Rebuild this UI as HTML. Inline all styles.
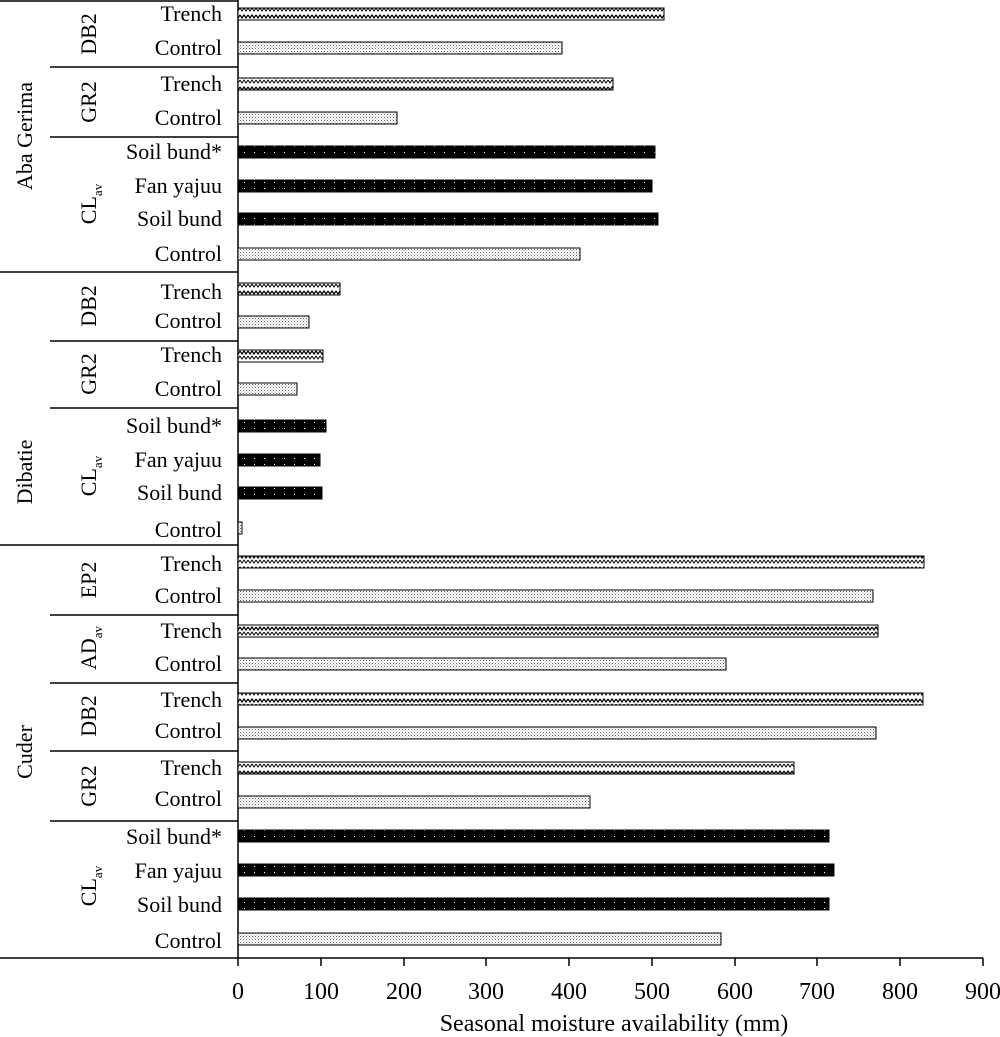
<!DOCTYPE html>
<html><head><style>body{margin:0;background:#fff}svg{display:block}text{font-family:"Liberation Serif",serif;fill:#000}</style></head><body>
<svg width="1000" height="1037" viewBox="0 0 1000 1037" xmlns="http://www.w3.org/2000/svg">
<defs>
<pattern id="wave" width="8" height="12" patternUnits="userSpaceOnUse"><rect width="8" height="12" fill="#fff"/><path d="M0 3 L2 6 L4 3 L6 6 L8 3" stroke="#000" stroke-width="1.2" fill="none"/><path d="M0 8 L2 11 L4 8 L6 11 L8 8" stroke="#000" stroke-width="1" fill="none"/></pattern>
<pattern id="dots" width="3" height="3" patternUnits="userSpaceOnUse"><rect width="3" height="3" fill="#fff"/><rect width="1" height="1" fill="#666"/><rect x="1.5" y="1.5" width="1" height="1" fill="#999"/></pattern>
<pattern id="blk" width="10" height="6" patternUnits="userSpaceOnUse"><rect width="10" height="6" fill="#000"/><rect x="4" y="2" width="1" height="1" fill="#fff"/></pattern>
</defs>
<g stroke="#000" stroke-width="1.5">
<line x1="0" y1="1" x2="238" y2="1"/>
<line x1="0" y1="272" x2="238" y2="272"/>
<line x1="0" y1="545" x2="238" y2="545"/>
<line x1="0" y1="958" x2="983" y2="958"/>
<line x1="238" y1="0" x2="238" y2="958"/>
<line x1="50" y1="67" x2="238" y2="67"/><line x1="50" y1="137" x2="238" y2="137"/>
<line x1="50" y1="341" x2="238" y2="341"/><line x1="50" y1="408" x2="238" y2="408"/>
<line x1="50" y1="615" x2="238" y2="615"/><line x1="50" y1="683" x2="238" y2="683"/>
<line x1="50" y1="751" x2="238" y2="751"/><line x1="50" y1="821" x2="238" y2="821"/>
<line x1="238" y1="958" x2="238" y2="966"/><line x1="321" y1="958" x2="321" y2="966"/><line x1="404" y1="958" x2="404" y2="966"/><line x1="486" y1="958" x2="486" y2="966"/><line x1="569" y1="958" x2="569" y2="966"/><line x1="652" y1="958" x2="652" y2="966"/><line x1="735" y1="958" x2="735" y2="966"/><line x1="817" y1="958" x2="817" y2="966"/><line x1="900" y1="958" x2="900" y2="966"/><line x1="983" y1="958" x2="983" y2="966"/>
</g>
<g font-size="24" text-anchor="middle">
<text x="238" y="999">0</text><text x="321" y="999">100</text><text x="404" y="999">200</text><text x="486" y="999">300</text><text x="569" y="999">400</text><text x="652" y="999">500</text><text x="735" y="999">600</text><text x="817" y="999">700</text><text x="900" y="999">800</text><text x="983" y="999">900</text>
<text x="614" y="1031">Seasonal moisture availability (mm)</text>
</g>
<g stroke="#000" stroke-width="1">
<rect x="238" y="8" width="426" height="12" fill="url(#wave)"/>
<rect x="238" y="42" width="324" height="12" fill="url(#dots)"/>
<rect x="238" y="78" width="375" height="12" fill="url(#wave)"/>
<rect x="238" y="112" width="159" height="12" fill="url(#dots)"/>
<rect x="238" y="146" width="417" height="12" fill="url(#blk)"/>
<rect x="238" y="180" width="414" height="12" fill="url(#blk)"/>
<rect x="238" y="213" width="420" height="12" fill="url(#blk)"/>
<rect x="238" y="248" width="342" height="12" fill="url(#dots)"/>
<rect x="238" y="283" width="102" height="12" fill="url(#wave)"/>
<rect x="238" y="316" width="71" height="12" fill="url(#dots)"/>
<rect x="238" y="350" width="85" height="12" fill="url(#wave)"/>
<rect x="238" y="383" width="59" height="12" fill="url(#dots)"/>
<rect x="238" y="420" width="88" height="12" fill="url(#blk)"/>
<rect x="238" y="454" width="82" height="12" fill="url(#blk)"/>
<rect x="238" y="487" width="84" height="12" fill="url(#blk)"/>
<rect x="238" y="522" width="4" height="12" fill="url(#dots)"/>
<rect x="238" y="556" width="686" height="12" fill="url(#wave)"/>
<rect x="238" y="590" width="635" height="12" fill="url(#dots)"/>
<rect x="238" y="625" width="640" height="12" fill="url(#wave)"/>
<rect x="238" y="658" width="488" height="12" fill="url(#dots)"/>
<rect x="238" y="693" width="685" height="12" fill="url(#wave)"/>
<rect x="238" y="727" width="638" height="12" fill="url(#dots)"/>
<rect x="238" y="762" width="556" height="12" fill="url(#wave)"/>
<rect x="238" y="796" width="352" height="12" fill="url(#dots)"/>
<rect x="238" y="830" width="591" height="12" fill="url(#blk)"/>
<rect x="238" y="864" width="596" height="12" fill="url(#blk)"/>
<rect x="238" y="898" width="591" height="12" fill="url(#blk)"/>
<rect x="238" y="933" width="483" height="12" fill="url(#dots)"/>
</g>
<g font-size="22" text-anchor="end">
<text x="222" y="21">Trench</text><text x="222" y="55">Control</text><text x="222" y="91">Trench</text><text x="222" y="125">Control</text>
<text x="222" y="159">Soil bund*</text><text x="222" y="193">Fan yajuu</text><text x="222" y="226">Soil bund</text><text x="222" y="261">Control</text>
<text x="222" y="299">Trench</text><text x="222" y="328">Control</text><text x="222" y="362">Trench</text><text x="222" y="396">Control</text>
<text x="222" y="433">Soil bund*</text><text x="222" y="467">Fan yajuu</text><text x="222" y="500">Soil bund</text><text x="222" y="537">Control</text>
<text x="222" y="571">Trench</text><text x="222" y="603">Control</text><text x="222" y="638">Trench</text><text x="222" y="671">Control</text>
<text x="222" y="707">Trench</text><text x="222" y="738">Control</text><text x="222" y="775">Trench</text><text x="222" y="806">Control</text>
<text x="222" y="844">Soil bund*</text><text x="222" y="878">Fan yajuu</text><text x="222" y="912">Soil bund</text><text x="222" y="948">Control</text>
</g>
<g font-size="22" text-anchor="middle">
<text transform="translate(96,34) rotate(-90)">DB2</text>
<text transform="translate(96,102) rotate(-90)">GR2</text>
<text transform="translate(96,204) rotate(-90)">CL<tspan font-size="13" dy="6">av</tspan></text>
<text transform="translate(32,136) rotate(-90)">Aba Gerima</text>
<text transform="translate(96,306) rotate(-90)">DB2</text>
<text transform="translate(96,374) rotate(-90)">GR2</text>
<text transform="translate(96,476) rotate(-90)">CL<tspan font-size="13" dy="6">av</tspan></text>
<text transform="translate(32,472) rotate(-90)">Dibatie</text>
<text transform="translate(96,580) rotate(-90)">EP2</text>
<text transform="translate(96,648) rotate(-90)">AD<tspan font-size="13" dy="6">av</tspan></text>
<text transform="translate(96,716) rotate(-90)">DB2</text>
<text transform="translate(96,786) rotate(-90)">GR2</text>
<text transform="translate(96,886) rotate(-90)">CL<tspan font-size="13" dy="6">av</tspan></text>
<text transform="translate(32,752) rotate(-90)">Cuder</text>
</g>
</svg>
</body></html>
